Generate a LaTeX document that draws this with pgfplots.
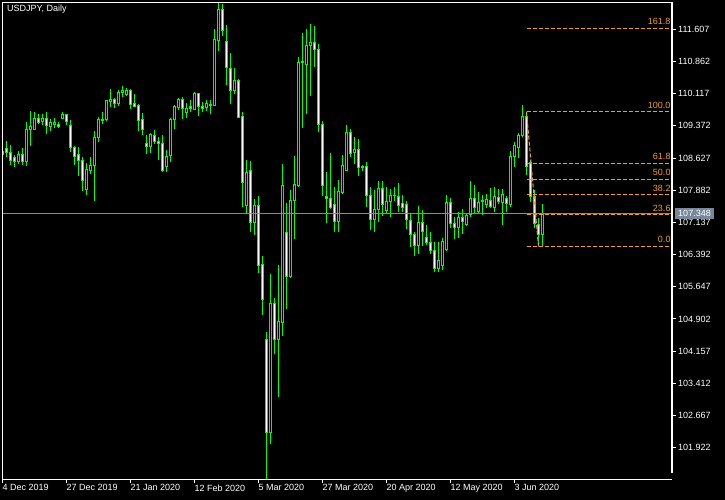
\documentclass[border=0pt]{standalone}
\usepackage{pgfplots}
\pgfplotsset{compat=1.18}
\usepackage{pgfplotstable}
\usepackage{fontspec}
\setmainfont{Liberation Sans}
\definecolor{cg}{RGB}{0,255,0}
\definecolor{fib}{RGB}{240,160,30}
\definecolor{bid}{RGB}{128,140,152}
\definecolor{pbox}{RGB}{119,136,153}

\pgfplotstableread{
i o h l c
0 108.77 108.86 108.61 108.70
1 108.85 109.02 108.64 108.75
2 108.76 108.93 108.47 108.57
3 108.64 108.70 108.43 108.54
4 108.54 108.79 108.49 108.72
5 108.71 108.85 108.47 108.54
6 108.54 109.46 108.45 109.29
7 109.28 109.72 108.91 109.36
8 109.29 109.69 109.28 109.55
9 109.55 109.65 109.41 109.45
10 109.47 109.65 109.39 109.55
11 109.55 109.69 109.19 109.38
12 109.35 109.53 109.26 109.45
13 109.40 109.55 109.33 109.44
14 109.41 109.45 109.33 109.35
15 109.54 109.69 109.53 109.64
16 109.64 109.65 109.39 109.47
17 109.38 109.51 108.77 108.88
18 108.88 108.91 108.47 108.66
19 108.71 108.88 108.22 108.57
20 108.57 108.64 107.86 108.10
21 107.90 108.51 107.77 108.37
22 108.35 108.64 108.26 108.46
23 108.45 109.25 107.64 109.11
24 109.10 109.58 109.00 109.52
25 109.49 109.69 109.41 109.53
26 109.51 109.97 109.48 109.95
27 109.93 110.23 109.82 109.99
28 109.99 110.02 109.79 109.88
29 109.88 110.20 109.83 110.15
30 110.14 110.29 110.05 110.18
31 110.09 110.24 110.06 110.20
32 110.20 110.23 109.76 109.86
33 109.88 110.11 109.80 109.83
34 109.85 109.88 109.25 109.49
35 109.51 109.68 109.16 109.28
36 108.97 109.16 108.72 108.89
37 108.89 109.21 108.75 109.17
38 109.16 109.28 108.95 109.00
39 109.02 109.11 108.58 108.96
40 108.97 109.16 108.30 108.35
41 108.43 108.81 108.30 108.67
42 108.68 109.55 108.53 109.53
43 109.52 109.85 109.30 109.83
44 109.80 110.02 109.73 109.99
45 109.99 110.04 109.53 109.78
46 109.68 109.90 109.55 109.78
47 109.81 109.97 109.70 109.77
48 109.75 110.16 109.74 110.11
49 110.11 110.13 109.60 109.81
50 109.81 109.93 109.70 109.77
51 109.80 109.97 109.72 109.88
52 109.87 109.97 109.65 109.84
53 109.85 111.61 109.83 111.38
54 111.34 112.22 111.11 112.07
55 112.07 112.19 111.45 111.57
56 111.33 111.71 110.32 110.72
57 110.70 111.05 109.88 110.19
58 110.19 110.70 110.11 110.43
59 110.43 110.46 109.55 109.57
60 109.60 109.69 107.50 108.06
61 107.52 108.58 107.35 108.30
62 108.35 108.55 106.91 107.13
63 107.13 107.69 106.85 107.53
64 107.53 107.75 105.97 106.15
65 106.17 106.36 104.99 105.35
66 104.43 104.61 101.18 102.27
67 102.27 105.94 102.01 105.26
68 105.26 105.38 104.09 104.43
69 104.43 106.14 103.10 104.85
70 104.82 108.50 104.51 107.99
71 106.91 107.58 105.14 105.88
72 105.88 107.89 105.85 107.65
73 107.64 108.67 106.75 108.02
74 108.00 110.96 107.96 110.84
75 110.87 111.53 109.33 110.84
76 110.80 111.61 109.65 111.24
77 111.24 111.73 110.07 111.31
78 111.31 111.68 110.74 111.14
79 111.14 111.27 109.22 109.41
80 109.41 109.48 107.75 107.99
81 107.73 108.31 107.13 107.69
82 107.69 108.75 107.45 107.48
83 107.56 107.95 106.92 107.15
84 107.15 108.12 106.92 107.86
85 107.84 108.70 107.79 108.46
86 108.35 109.39 108.33 109.22
87 109.22 109.29 108.64 108.74
88 108.75 109.11 108.49 108.83
89 108.83 109.06 108.20 108.40
90 108.43 108.47 108.33 108.41
91 108.44 108.54 107.50 107.76
92 107.76 107.95 106.96 107.21
93 107.21 107.89 106.92 107.44
94 107.44 108.10 107.15 107.93
95 107.93 108.09 107.29 107.56
96 107.42 107.95 107.33 107.63
97 107.62 107.91 107.27 107.76
98 107.77 107.95 107.63 107.75
99 107.73 108.04 107.38 107.54
100 107.58 107.77 107.37 107.48
101 107.56 107.63 106.98 107.21
102 107.19 107.35 106.56 106.85
103 106.86 106.91 106.37 106.60
104 106.60 107.52 106.41 107.14
105 107.14 107.42 106.60 106.92
106 106.79 107.08 106.61 106.67
107 106.68 106.91 106.41 106.48
108 106.49 106.68 105.99 106.06
109 106.07 106.68 105.99 106.26
110 106.13 106.78 106.04 106.69
111 106.50 107.77 106.48 107.60
112 107.60 107.71 107.01 107.12
113 107.12 107.27 106.75 107.02
114 107.02 107.38 106.78 107.25
115 107.25 107.44 106.86 107.15
116 107.09 107.35 107.06 107.29
117 107.31 108.09 107.27 107.69
118 107.69 108.00 107.35 107.49
119 107.38 107.85 107.36 107.60
120 107.64 107.77 107.32 107.62
121 107.56 107.79 107.48 107.67
122 107.64 107.93 107.48 107.50
123 107.48 107.95 107.38 107.74
124 107.72 107.90 107.56 107.62
125 107.59 107.90 107.08 107.79
126 107.69 107.75 107.38 107.58
127 107.56 108.79 107.50 108.67
128 108.66 109.00 108.43 108.91
129 108.87 109.21 108.62 109.16
130 109.16 109.85 109.12 109.60
131 109.60 109.70 108.24 108.43
132 108.52 108.58 107.62 107.73
133 107.73 107.89 107.00 107.12
134 107.09 107.23 106.58 106.86
135 106.86 107.56 106.60 107.348
}\candles

\pgfplotsset{
  chartframe/.style={
    at={(2bp,21bp)}, anchor=south west, scale only axis,
    width=670bp, height=477bp,
    xmin=-0.125, xmax=167.375, ymin=101.198, ymax=112.239,
  },
}

\begin{document}
\begin{tikzpicture}[font=\fontsize{9bp}{11bp}\selectfont]
\fill[black] (0,0) rectangle (725bp,500bp);

% axis with ticks and wicks
\begin{axis}[chartframe,
  axis line style={draw=none},
  tick align=outside,
  major tick length=4bp,
  tick style={white, line width=1bp},
  xtick pos=left, ytick pos=right, yticklabel pos=right,
  xtick={0,16,32,48,64,80,96,112,128},
  xticklabels={4 Dec 2019,27 Dec 2019,21 Jan 2020,12 Feb 2020,5 Mar 2020,27 Mar 2020,20 Apr 2020,12 May 2020,3 Jun 2020},
  ytick={101.922,102.667,103.412,104.157,104.902,105.647,106.392,107.137,107.882,108.627,109.372,110.117,110.862,111.607},
  yticklabels={101.922,102.667,103.412,104.157,104.902,105.647,106.392,107.137,107.882,108.627,109.372,110.117,110.862,111.607},
  tick label style={text=white, font=\fontsize{9bp}{11bp}\selectfont, inner sep=0pt},
  xticklabel style={anchor=north west, yshift=-1.5bp},
  yticklabel style={anchor=west, xshift=2bp},
  minor tick num=0,
]
\addplot[draw=none, mark=none, forget plot,
  error bars/.cd, y dir=plus, y explicit,
  error bar style={draw=cg, line width=1bp}, error mark=none]
  table[x=i, y=l, y error expr=\thisrow{h}-\thisrow{l}] {\candles};
\end{axis}

% candle bodies
\begin{axis}[chartframe, hide axis, ybar stacked, bar width=2bp]
\addplot[draw=none, fill=none] table[x=i, y expr={min(\thisrow{o},\thisrow{c})}] {\candles};
\addplot[draw=cg, fill=black, line width=1bp] table[x=i, y expr={max(\thisrow{c}-\thisrow{o},0)}] {\candles};
\addplot[draw=cg, fill=white, line width=1bp] table[x=i, y expr={max(\thisrow{o}-\thisrow{c},0)}] {\candles};
\end{axis}

% overlays: bid line, Fibonacci
\begin{axis}[chartframe, hide axis, clip=false]
\addplot[bid, line width=1bp, mark=none] coordinates {(-0.125,107.348) (167.375,107.348)};
\pgfplotsset{fibline/.style={fib, line width=1bp, mark=none, dash pattern=on 4bp off 2bp}}
\addplot[fibline] coordinates {(131,106.58) (167.375,106.58)};
\addplot[fibline] coordinates {(131,107.316) (167.375,107.316)};
\addplot[fibline] coordinates {(131,107.772) (167.375,107.772)};
\addplot[fibline] coordinates {(131,108.14) (167.375,108.14)};
\addplot[fibline] coordinates {(131,108.508) (167.375,108.508)};
\addplot[fibline] coordinates {(131,109.70) (167.375,109.70)};
\addplot[fibline] coordinates {(131,111.628) (167.375,111.628)};
\addplot[fibline] coordinates {(131,109.70) (134,106.58)};
\node[anchor=base east, inner sep=0pt, text=fib, yshift=3.5bp] at (axis cs:167.05,106.58) {0.0};
\node[anchor=base east, inner sep=0pt, text=fib, yshift=3.5bp] at (axis cs:167.05,107.316) {23.6};
\node[anchor=base east, inner sep=0pt, text=fib, yshift=3.5bp] at (axis cs:167.05,107.772) {38.2};
\node[anchor=base east, inner sep=0pt, text=fib, yshift=3.5bp] at (axis cs:167.05,108.14) {50.0};
\node[anchor=base east, inner sep=0pt, text=fib, yshift=3.5bp] at (axis cs:167.05,108.508) {61.8};
\node[anchor=base east, inner sep=0pt, text=fib, yshift=3.5bp] at (axis cs:167.05,109.70) {100.0};
\node[anchor=base east, inner sep=0pt, text=fib, yshift=3.5bp] at (axis cs:167.05,111.628) {161.8};
\end{axis}

% frame
\draw[white, line width=1bp] (2.5bp,20.5bp) -- (2.5bp,497.5bp) -- (672bp,497.5bp);
\draw[white, line width=1bp] (2.5bp,20.5bp) -- (672bp,20.5bp);
\draw[white, line width=2bp] (672bp,497.5bp) -- (672bp,27bp);
% current price box
\fill[pbox] (675bp,281bp) rectangle (714bp,292bp);
\node[text=white, inner sep=0pt] at (694.5bp,286.5bp) {107.348};
% title
\node[anchor=north west, inner sep=0pt, text=white] at (7bp,495bp) {USDJPY, Daily};
\end{tikzpicture}
\end{document}
